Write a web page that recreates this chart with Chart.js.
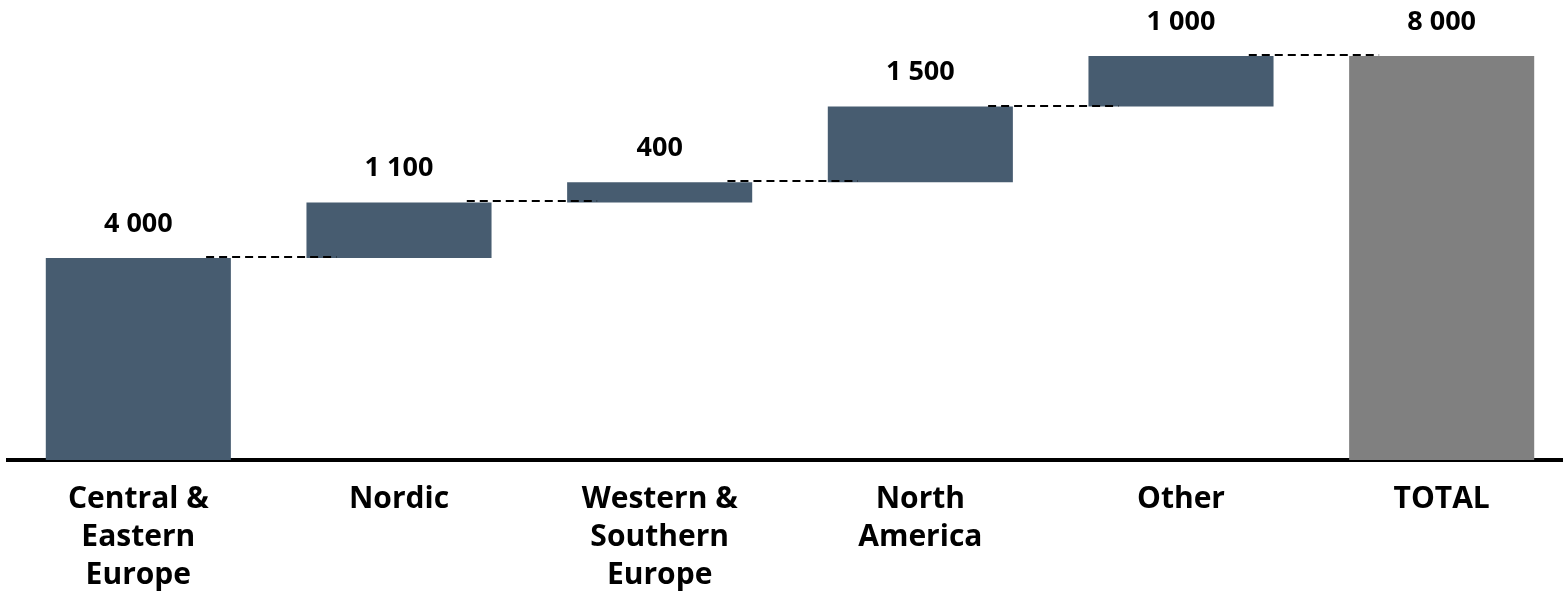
<!DOCTYPE html>
<html>
<head>
<meta charset="utf-8">
<script src="https://cdn.jsdelivr.net/npm/chart.js@4/dist/chart.umd.min.js"></script>
<style>
  html, body { margin: 0; padding: 0; background: #ffffff; overflow: hidden; }
  #wrap { position: relative; width: 1572px; height: 609px; }
</style>
</head>
<body>
<div id="wrap"><canvas id="chart"></canvas></div>
<script>
// Regional contributions building up to the total
const categories = [
  ['Central &', 'Eastern', 'Europe'],
  'Nordic',
  ['Western &', 'Southern', 'Europe'],
  ['North', 'America'],
  'Other',
  'TOTAL'
];
const increments = [4000, 1100, 400, 1500, 1000];
const totalValue = 8000;

const stepColor = '#475c70';
const totalColor = '#808080';
const FONT = '"Open Sans", Lato, sans-serif';

// Floating bars: each step starts where the previous one ended
const floating = [];
const shownValues = [];
let running = 0;
increments.forEach(v => {
  floating.push([running, running + v]);
  shownValues.push(v);
  running += v;
});
floating.push([0, totalValue]);
shownValues.push(totalValue);

const colors = floating.map((_, i) => i === floating.length - 1 ? totalColor : stepColor);

function fmt(v) {
  return String(v).replace(/\B(?=(\d{3})+(?!\d))/g, ' ');
}

// Dashed connectors between consecutive bar tops, and value labels above bars
const waterfallDecor = {
  id: 'waterfallDecor',
  afterDatasetsDraw(chart) {
    const { ctx, scales } = chart;
    const x = scales.x, y = scales.y;
    const meta = chart.getDatasetMeta(0);
    const step = x.getPixelForValue(1) - x.getPixelForValue(0);

    ctx.save();
    ctx.strokeStyle = '#000000';
    ctx.lineWidth = 2;
    ctx.setLineDash([8, 5]);
    for (let i = 0; i < floating.length - 1; i++) {
      const level = floating[i][1];
      const py = Math.round(y.getPixelForValue(level)) - 1;
      const x1 = x.getPixelForValue(i) + step * 0.26;
      const x2 = x.getPixelForValue(i + 1) - step * 0.24;
      ctx.beginPath();
      ctx.moveTo(x1, py);
      ctx.lineTo(x2, py);
      ctx.stroke();
    }
    ctx.restore();

    ctx.save();
    ctx.fillStyle = '#000000';
    ctx.font = 'bold 27px ' + FONT;
    ctx.textAlign = 'center';
    ctx.textBaseline = 'middle';
    meta.data.forEach((bar, i) => {
      const top = Math.min(bar.y, bar.base);
      ctx.fillText(fmt(shownValues[i]), bar.x, top - 34);
    });
    ctx.restore();
  }
};

new Chart(document.getElementById('chart'), {
  type: 'bar',
  data: {
    labels: categories,
    datasets: [{
      data: floating,
      backgroundColor: colors,
      borderWidth: 0,
      categoryPercentage: 1.0,
      barPercentage: 0.71
    }]
  },
  options: {
    responsive: true,
    maintainAspectRatio: false,
    animation: false,
    layout: { padding: { left: 8, right: 0, top: 56, bottom: 0 } },
    plugins: {
      legend: { display: false },
      tooltip: { enabled: false },
      title: { display: false }
    },
    scales: {
      x: {
        grid: { display: false, drawTicks: false },
        border: { display: true, color: '#000000', width: 4 },
        ticks: {
          color: '#000000',
          padding: 21,
          maxRotation: 0,
          autoSkip: false,
          font: { family: FONT, size: 30, weight: 'bold', lineHeight: 1.26 }
        },
        afterFit(scale) { scale.height = 149; }
      },
      y: {
        display: false,
        min: 0,
        max: totalValue
      }
    }
  },
  plugins: [waterfallDecor]
});
</script>
</body>
</html>
